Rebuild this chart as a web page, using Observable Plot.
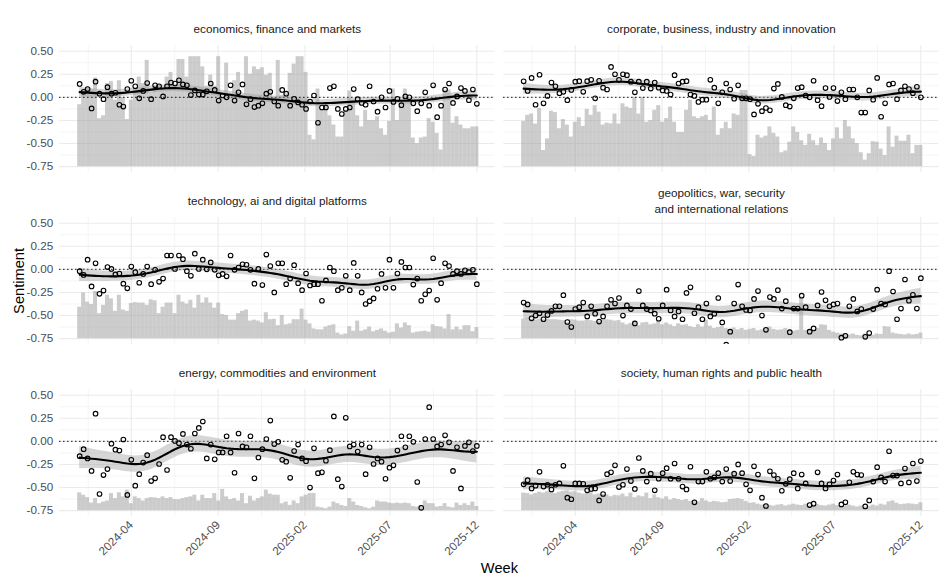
<!DOCTYPE html>
<html><head><meta charset="utf-8">
<script src="https://cdn.jsdelivr.net/npm/d3@7"></script>
<script src="https://cdn.jsdelivr.net/npm/@observablehq/plot@0.6"></script>
<style>body{margin:0;background:#fff}</style>
</head><body><div id="chart"></div>
<script>
// ---- categories ----
const panelTitles = [
  "economics, finance and markets",
  "corporate, business, industry and innovation",
  "technology, ai and digital platforms",
  "geopolitics, war, security\nand international relations",
  "energy, commodities and environment",
  "society, human rights and public health"
];
const firstWeek = "2024-01-01";
const lastWeek = "2025-12-01";

// ---- weekly mean sentiment (points) ----
const sent_econ = [0.145,0.06,0.09,-0.12,0.17,0.04,-0.02,0.11,0.04,0.05,
-0.08,-0.10,0.09,0.18,0.12,-0.01,0.07,0.155,-0.02,0.13,
0.12,0.01,0.12,0.16,0.15,0.185,0.14,0.13,0.025,0.075,
0.03,0.03,0.065,0.15,0.08,-0.035,0.02,0.00,0.13,-0.035,
0.055,0.14,-0.075,-0.02,-0.105,-0.09,-0.065,0.04,0.06,-0.045,
-0.09,0.08,0.04,-0.09,-0.015,-0.055,-0.08,-0.125,-0.045,0.02,
-0.275,-0.11,-0.11,0.10,0.12,-0.125,-0.18,-0.125,-0.11,0.09,
-0.02,-0.06,-0.08,0.12,-0.045,-0.155,0.00,-0.11,0.07,-0.05,
-0.015,-0.085,0.01,0.00,-0.065,-0.15,-0.065,0.055,-0.09,0.13,
-0.215,-0.09,0.085,0.15,-0.06,0.01,0.10,0.07,-0.03,0.085,
-0.07];
const sent_corp = [0.174,0.07,0.21,-0.08,0.245,-0.065,0.015,0.16,0.12,0.045,
0.06,-0.03,0.08,0.17,0.175,0.06,0.175,0.19,-0.01,0.18,
0.105,0.085,0.33,0.25,0.19,0.25,0.24,0.17,0.055,0.17,
0.10,0.17,0.095,0.16,0.105,0.075,0.07,0.03,0.24,0.15,
0.17,0.175,0.03,0.015,-0.05,-0.025,-0.025,0.19,0.105,-0.065,
0.055,0.15,0.085,-0.015,0.13,-0.01,-0.01,-0.02,-0.185,-0.07,
-0.15,-0.115,-0.14,0.095,0.145,0.005,-0.085,-0.10,-0.01,0.10,
0.11,0.02,0.00,0.18,-0.03,-0.095,0.10,0.005,0.10,-0.04,
0.055,-0.02,0.085,0.085,0.00,-0.165,-0.165,0.075,-0.025,0.21,
-0.21,-0.065,0.14,0.15,-0.02,0.075,0.12,0.09,0.045,0.115,
0.00];
const sent_tech = [-0.02,-0.06,0.105,-0.185,0.065,-0.265,-0.23,0.025,0.005,-0.055,
-0.045,-0.155,-0.205,0.03,-0.03,-0.145,-0.05,0.03,-0.16,-0.005,
-0.135,-0.10,0.15,0.15,0.005,0.15,0.11,-0.02,-0.07,0.17,
0.005,0.105,0.0,0.075,-0.005,-0.065,-0.05,-0.075,0.15,-0.005,
0.02,0.055,0.05,-0.005,-0.155,0.005,-0.17,0.16,0.035,-0.25,
0.065,0.065,-0.16,-0.10,0.045,-0.15,-0.225,-0.045,-0.175,-0.16,
-0.16,-0.34,-0.12,0.02,-0.02,-0.225,-0.20,-0.07,-0.225,0.07,
-0.07,-0.25,-0.375,-0.345,-0.315,-0.21,-0.05,-0.20,0.105,-0.20,
-0.045,0.08,0.02,0.02,-0.165,-0.10,-0.34,-0.27,-0.23,0.12,
-0.33,-0.15,0.065,0.035,-0.05,-0.02,-0.05,-0.01,-0.03,-0.005,
-0.16];
const sent_geo = [-0.36,-0.38,-0.53,-0.50,-0.475,-0.54,-0.495,-0.45,-0.40,-0.40,
-0.28,-0.57,-0.625,-0.43,-0.41,-0.36,-0.51,-0.40,-0.48,-0.565,
-0.51,-0.40,-0.33,-0.37,-0.31,-0.50,-0.39,-0.43,-0.585,-0.235,
-0.39,-0.43,-0.445,-0.48,-0.535,-0.39,-0.22,-0.445,-0.51,-0.455,
-0.54,-0.255,-0.195,-0.475,-0.41,-0.54,-0.37,-0.51,-0.48,-0.31,
-0.575,-0.815,-0.675,-0.37,-0.165,-0.40,-0.44,-0.445,-0.32,-0.235,
-0.50,-0.655,-0.30,-0.32,-0.225,-0.425,-0.345,-0.68,-0.425,-0.425,
-0.285,-0.41,-0.675,-0.64,-0.39,-0.245,-0.335,-0.40,-0.38,-0.37,
-0.74,-0.72,-0.40,-0.32,-0.455,-0.43,-0.73,-0.69,-0.43,-0.22,
-0.37,-0.38,-0.02,-0.24,-0.54,-0.425,-0.11,-0.34,-0.275,-0.425,
-0.095];
const sent_energy = [-0.16,-0.085,-0.185,-0.32,0.30,-0.57,-0.365,-0.30,-0.025,-0.09,
-0.10,0.02,-0.58,-0.20,-0.48,-0.355,-0.23,-0.15,-0.43,-0.40,
-0.245,0.045,-0.31,0.045,0.005,-0.02,0.08,-0.035,-0.08,0.085,
0.145,0.215,-0.185,-0.035,-0.195,-0.12,-0.12,0.055,-0.12,-0.34,
0.085,-0.055,-0.065,0.055,-0.40,-0.175,-0.085,0.025,0.225,-0.03,
-0.005,-0.20,-0.22,-0.395,-0.105,-0.035,-0.185,-0.215,-0.50,-0.075,
-0.345,-0.335,-0.21,-0.095,0.27,-0.41,-0.49,0.255,-0.055,-0.035,
-0.11,-0.035,-0.355,-0.065,-0.245,-0.185,-0.22,-0.405,-0.285,-0.26,
-0.10,0.055,-0.065,0.055,-0.005,-0.44,-0.72,0.025,0.37,0.025,
-0.055,-0.035,0.065,-0.01,-0.32,-0.065,-0.51,-0.05,-0.01,-0.105,
-0.05];
const sent_society = [-0.465,-0.42,-0.51,-0.48,-0.33,-0.49,-0.47,-0.52,-0.47,-0.455,
-0.265,-0.61,-0.627,-0.455,-0.455,-0.46,-0.53,-0.515,-0.51,-0.64,
-0.57,-0.355,-0.335,-0.26,-0.495,-0.47,-0.30,-0.43,-0.515,-0.18,
-0.32,-0.435,-0.35,-0.53,-0.405,-0.345,-0.29,-0.405,-0.24,-0.405,
-0.49,-0.52,-0.275,-0.66,-0.435,-0.435,-0.33,-0.405,-0.39,-0.345,
-0.435,-0.30,-0.43,-0.35,-0.25,-0.345,-0.465,-0.53,-0.27,-0.36,
-0.61,-0.70,-0.325,-0.365,-0.405,-0.535,-0.46,-0.41,-0.345,-0.51,
-0.36,-0.455,-0.69,-0.675,-0.335,-0.455,-0.51,-0.465,-0.425,-0.36,
-0.683,-0.66,-0.443,-0.33,-0.36,-0.365,-0.705,-0.64,-0.435,-0.28,
-0.39,-0.435,-0.107,-0.37,-0.37,-0.455,-0.295,-0.445,-0.24,-0.43,
-0.214];

// ---- weekly article volume, shown as bar tops on the sentiment scale ----
const vol_econ = [-0.08,0.07,0.10,0.08,0.21,-0.23,-0.20,0.15,0.17,-0.03,
0.18,0.0,-0.24,-0.03,0.09,0.22,0.15,0.40,0.05,0.12,
0.13,0.10,0.22,0.27,0.12,0.41,0.41,0.22,0.44,0.44,
0.44,0.33,0.12,0.24,0.12,0.44,0.00,0.37,0.02,0.18,
0.27,0.0,0.44,0.25,0.33,0.30,0.32,0.24,0.26,0.0,
0.40,0.02,0.04,0.26,0.36,0.44,0.44,0.27,-0.41,-0.46,
0.09,-0.14,-0.07,-0.2,-0.3,-0.43,-0.43,-0.14,0.07,-0.03,
-0.2,-0.32,-0.14,-0.25,-0.25,-0.21,-0.34,-0.41,-0.26,0.09,
-0.25,-0.03,0.09,-0.05,-0.44,-0.50,-0.44,-0.43,-0.23,-0.27,
-0.39,-0.57,0.08,0.08,-0.28,-0.21,-0.30,-0.34,-0.34,-0.32,
-0.32];
const vol_corp = [-0.26,-0.195,-0.18,-0.29,-0.12,-0.575,-0.45,-0.15,-0.165,-0.34,
-0.24,-0.30,-0.43,-0.27,-0.22,-0.315,-0.13,-0.195,-0.09,-0.16,
-0.30,-0.28,-0.286,-0.18,-0.29,-0.07,-0.105,-0.12,0.0,-0.18,
0.0,-0.27,-0.25,-0.14,-0.09,-0.27,-0.23,-0.105,-0.27,-0.38,
-0.38,-0.14,-0.03,-0.21,-0.23,-0.21,-0.195,-0.25,-0.105,-0.41,
-0.34,-0.27,-0.34,-0.18,-0.195,0.075,0.075,-0.62,-0.64,-0.41,
-0.44,-0.42,-0.32,-0.39,-0.43,-0.60,-0.58,-0.485,-0.32,-0.38,
-0.47,-0.52,-0.40,-0.47,-0.52,-0.44,-0.50,-0.575,-0.45,-0.33,
-0.45,-0.25,-0.32,-0.45,-0.50,-0.60,-0.68,-0.61,-0.48,-0.485,
-0.56,-0.63,-0.32,-0.54,-0.42,-0.475,-0.475,-0.41,-0.61,-0.52,
-0.52];
const vol_tech = [-0.41,-0.255,-0.355,-0.38,-0.24,-0.48,-0.39,-0.28,-0.32,-0.455,
-0.28,-0.44,-0.455,-0.37,-0.36,-0.365,-0.365,-0.39,-0.33,-0.34,
-0.48,-0.41,-0.365,-0.365,-0.48,-0.28,-0.355,-0.375,-0.335,-0.42,
-0.28,-0.365,-0.31,-0.365,-0.42,-0.365,-0.49,-0.50,-0.55,-0.55,
-0.48,-0.455,-0.44,-0.56,-0.55,-0.56,-0.58,-0.47,-0.545,-0.54,
-0.61,-0.50,-0.60,-0.59,-0.545,-0.545,-0.43,-0.55,-0.59,-0.645,
-0.655,-0.655,-0.625,-0.61,-0.60,-0.69,-0.71,-0.70,-0.62,-0.67,
-0.56,-0.67,-0.655,-0.625,-0.675,-0.66,-0.645,-0.67,-0.69,-0.68,
-0.59,-0.635,-0.58,-0.61,-0.69,-0.68,-0.675,-0.67,-0.68,-0.60,
-0.62,-0.625,-0.645,-0.49,-0.655,-0.625,-0.655,-0.61,-0.61,-0.675,
-0.63];
const vol_geo = [-0.54,-0.53,-0.545,-0.55,-0.54,-0.545,-0.54,-0.545,-0.545,-0.55,-0.555,-0.58,-0.545,
-0.55,-0.56,-0.56,-0.55,-0.555,-0.565,-0.56,-0.55,-0.545,-0.55,-0.56,-0.555,
-0.58,-0.60,-0.585,-0.56,-0.61,-0.58,-0.575,-0.60,-0.59,-0.565,-0.60,
-0.58,-0.60,-0.62,-0.59,-0.605,-0.60,-0.62,-0.63,-0.60,-0.625,-0.55,
-0.615,-0.64,-0.63,-0.62,-0.64,-0.65,-0.635,-0.655,-0.64,
-0.66,-0.65,-0.64,-0.665,-0.655,-0.64,-0.625,-0.65,-0.66,-0.655,-0.64,-0.665,-0.67,-0.66,
-0.30,
-0.66,-0.65,-0.655,-0.64,-0.60,-0.605,-0.66,
-0.68,-0.69,-0.70,-0.695,-0.71,-0.70,-0.715,-0.72,-0.70,-0.71,-0.715,-0.70,-0.705,
-0.62,-0.625,
-0.69,-0.70,-0.705,-0.71,-0.70,-0.71,-0.705,-0.69];
const vol_energy = [-0.557,-0.583,-0.609,-0.668,-0.62,-0.675,-0.657,-0.646,-0.565,-0.62,
-0.557,-0.601,-0.528,-0.675,-0.601,-0.62,-0.646,-0.62,-0.609,-0.612,
-0.62,-0.601,-0.62,-0.609,-0.631,-0.631,-0.62,-0.609,-0.601,-0.583,
-0.646,-0.583,-0.62,-0.62,-0.565,-0.646,-0.52,-0.601,-0.631,-0.62,
-0.646,-0.565,-0.675,-0.594,-0.646,-0.62,-0.601,-0.528,-0.572,-0.583,
-0.583,-0.675,-0.657,-0.694,-0.646,-0.675,-0.601,-0.583,-0.565,-0.565,
-0.712,-0.72,-0.73,-0.712,-0.657,-0.675,-0.694,-0.705,-0.62,-0.657,
-0.694,-0.705,-0.72,-0.73,-0.712,-0.646,-0.657,-0.657,-0.668,-0.675,
-0.668,-0.675,-0.668,-0.675,-0.705,-0.712,-0.694,-0.646,-0.675,-0.675,
-0.712,-0.705,-0.675,-0.712,-0.72,-0.668,-0.694,-0.675,-0.694,-0.657,
-0.705];
const vol_society = [-0.56,-0.565,-0.58,-0.565,-0.55,-0.56,-0.545,-0.55,-0.565,-0.55,-0.54,-0.535,-0.55,-0.545,-0.56,-0.57,-0.565,-0.555,-0.58,-0.57,-0.575,-0.58,-0.60,-0.585,-0.59,-0.57,
-0.60,-0.56,-0.61,-0.59,-0.60,-0.56,-0.62,-0.58,-0.61,-0.625,-0.60,-0.635,-0.62,-0.63,-0.64,
-0.63,-0.65,-0.64,-0.655,-0.62,-0.645,-0.66,-0.65,-0.655,-0.665,-0.66,-0.63,-0.625,-0.62,-0.63,
-0.65,-0.67,-0.665,-0.68,-0.69,-0.68,-0.695,-0.70,-0.69,-0.685,-0.70,-0.69,-0.68,-0.69,-0.695,
-0.68,-0.70,-0.69,-0.685,-0.695,-0.70,-0.69,-0.68,-0.695,-0.70,-0.705,-0.69,-0.70,-0.71,-0.70,
-0.71,-0.705,-0.69,-0.70,-0.68,-0.69,-0.655,-0.645,-0.67,-0.685,-0.68,-0.675,-0.68,-0.685,-0.665];

// ---- axis ticks ----
const xTickLabels = ["2024-04","2024-09","2025-02","2025-07","2025-12"];
const xDomain = ["2023-11-27","2026-01-02"];
const yTicks = [-0.75,-0.5,-0.25,0,0.25,0.5];
const yDomain = [-0.8125,0.5625];
const barBase = -0.75;

// ---- build tables ----
const sentSeries = [sent_econ, sent_corp, sent_tech, sent_geo, sent_energy, sent_society];
const volSeries = [vol_econ, vol_corp, vol_tech, vol_geo, vol_energy, vol_society];
const weeks = d3.utcMonday.range(new Date(firstWeek), d3.utcDay.offset(new Date(lastWeek), 1));
const DAY = 864e5;

const rows = [];
const smoothRows = [];
// kernel-weighted local mean of the weekly points, with a standard-error band
function smoothBand(vals, sigma) {
  const n = vals.length, fit = [], L = [];
  for (let i = 0; i < n; i++) {
    const w = []; let W = 0;
    for (let j = 0; j < n; j++) { const d = (j - i) / sigma; const wj = Math.exp(-0.5 * d * d); w.push(wj); W += wj; }
    const l = w.map(wj => wj / W);
    fit.push(d3.sum(l, (lj, j) => lj * vals[j]));
    L.push(Math.sqrt(d3.sum(l, lj => lj * lj)));
  }
  const s = Math.sqrt(d3.sum(vals, (v, i) => (v - fit[i]) ** 2) / (n - 1));
  return fit.map((f, i) => ({fit: f, lo: f - 1.96 * s * L[i], hi: f + 1.96 * s * L[i]}));
}
panelTitles.forEach((title, p) => {
  const col = p % 2, row = Math.floor(p / 2);
  const vals = sentSeries[p], vols = volSeries[p];
  weeks.forEach((date, i) => {
    if (i < vals.length) rows.push({panel: title, col, row, date, value: vals[i], bar: vols[i]});
  });
  smoothBand(vals, 5).forEach((s, i) => smoothRows.push({panel: title, col, row, date: weeks[i], ...s}));
});
const titleRows = panelTitles.map((t, p) => ({title: t, col: p % 2, row: Math.floor(p / 2)}));

const xMajor = xTickLabels.map(s => new Date(s + "-01"));
const xAll = [d3.utcMonth.offset(xMajor[0], -5), ...xMajor, d3.utcMonth.offset(xMajor[xMajor.length - 1], 5)];
const xd0 = new Date(xDomain[0]), xd1 = new Date(xDomain[1]);
const xMinor = d3.pairs(xAll, (a, b) => new Date((+a + +b) / 2)).filter(d => d > xd0 && d < xd1);
const yMinor = d3.pairs(yTicks, (a, b) => (a + b) / 2);

const chart = Plot.plot({
  width: 947, height: 586,
  marginLeft: 59.3, marginRight: 8.5, marginTop: 44.9, marginBottom: 70.1,
  style: {fontFamily: "'Liberation Sans', Arial, Helvetica, sans-serif", fontSize: "11.7px", background: "#fff", color: "#000"},
  fx: {domain: [0, 1], axis: null, paddingInner: 0.0198, paddingOuter: 0, round: false},
  fy: {domain: [0, 1, 2], axis: null, paddingInner: 0.2616, paddingOuter: 0, round: false},
  x: {type: "utc", domain: [xd0, xd1]},
  y: {domain: yDomain},
  marks: [
    Plot.gridY(yMinor, {stroke: "#ebebeb", strokeOpacity: 1, strokeWidth: 0.55}),
    Plot.gridX(xMinor, {stroke: "#ebebeb", strokeOpacity: 1, strokeWidth: 0.55}),
    Plot.gridY(yTicks, {stroke: "#ebebeb", strokeOpacity: 1, strokeWidth: 1.07}),
    Plot.gridX(xMajor, {stroke: "#ebebeb", strokeOpacity: 1, strokeWidth: 1.07}),
    Plot.rectY(rows, {
      x1: d => new Date(+d.date - 3.5 * DAY), x2: d => new Date(+d.date + 3.5 * DAY),
      y1: barBase, y2: "bar", fx: "col", fy: "row",
      fill: "#999", fillOpacity: 0.5, inset: 0
    }),
    Plot.ruleY([0], {stroke: "#000", strokeWidth: 1.1, strokeDasharray: "1.1,2.9"}),
    Plot.areaY(smoothRows, {x: "date", y1: "lo", y2: "hi", z: "panel", fx: "col", fy: "row", fill: "#999", fillOpacity: 0.4}),
    Plot.dot(rows, {x: "date", y: "value", fx: "col", fy: "row", r: 2.3, stroke: "#000", strokeWidth: 1.1, fill: "none", clip: true}),
    Plot.lineY(smoothRows, {x: "date", y: "fit", z: "panel", fx: "col", fy: "row", stroke: "#000", strokeWidth: 2.1}),
    Plot.text(titleRows, {fx: "col", fy: "row", text: "title", frameAnchor: "top", dy: -17.6, fontSize: 11.7, fill: "#1a1a1a", lineHeight: 1.35, lineAnchor: "middle"}),
    Plot.axisY({ticks: yTicks, tickFormat: d => d.toFixed(2), tickSize: 0, tickPadding: 6.6, label: null, color: "#4d4d4d", fontSize: 11.7}),
    Plot.axisX({ticks: xMajor, tickFormat: d3.utcFormat("%Y-%m"), tickRotate: -45, tickSize: 0, tickPadding: 6.6, label: null, color: "#4d4d4d", fontSize: 11.7}),
    Plot.text([{col: 0, row: 1}], {fx: "col", fy: "row", text: () => "Sentiment", frameAnchor: "left", dx: -40.3, rotate: -90, fontSize: 14.67, fill: "#000", textAnchor: "middle"}),
    Plot.text([{col: 0, row: 2}], {fx: "col", fy: "row", text: () => "Week", frameAnchor: "bottom-right", dx: 4.4, dy: 56.5, fontSize: 14.67, fill: "#000", textAnchor: "middle"})
  ]
});
document.getElementById("chart").appendChild(chart);
</script>
</body></html>
